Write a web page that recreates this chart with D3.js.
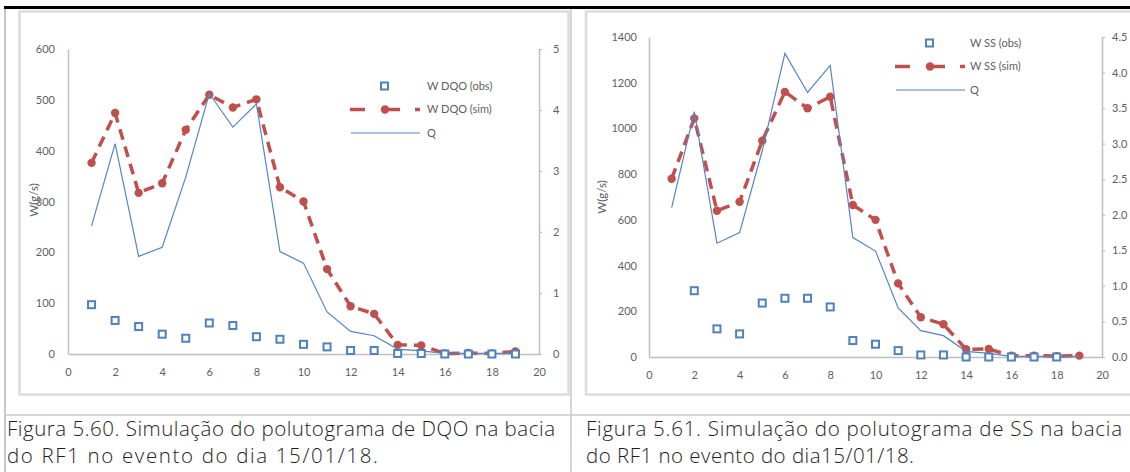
<!DOCTYPE html>
<html>
<head>
<meta charset="utf-8">
<script src="https://cdn.jsdelivr.net/npm/d3@7"></script>
<style>
  body { margin: 0; background: #fff; }
  svg { display: block; }
</style>
</head>
<body>
<script>
// time steps (x axis)
const steps = [1, 2, 3, 4, 5, 6, 7, 8, 9, 10, 11, 12, 13, 14, 15, 16, 17, 18, 19];
// flow Q (same event in both figures, right axis)
const qFlow = [2.1, 3.45, 1.6, 1.75, 2.9, 4.27, 3.72, 4.1, 1.68, 1.49, 0.69, 0.37, 0.30, 0.08, 0.05, 0.01, 0.01, 0.01, 0.01];
// DQO load
const dqoObs = [97, 66, 54, 39, 31, 61, 56, 34, 29, 19, 14, 7, 7, 1, 1, 0, 0, 0, 0];
const dqoSim = [376, 474, 317, 336, 441, 510, 485, 501, 328, 300, 167, 94, 79, 18, 17, 1, 2, 1, 5];
// SS load
const ssObs = [null, 290, 123, 101, 236, 257, 257, 219, 72, 56, 28, 9, 9, 0, 0, 0, 0, 0, null];
const ssSim = [780, 1044, 640, 679, 946, 1160, 1088, 1139, 665, 600, 322, 174, 143, 34, 35, 6, 6, 4, 6];

const xTicks = [0, 2, 4, 6, 8, 10, 12, 14, 16, 18, 20];
const dqoTicks = [0, 100, 200, 300, 400, 500, 600];
const dqoQTicks = [0, 1, 2, 3, 4, 5];
const ssTicks = [0, 200, 400, 600, 800, 1000, 1200, 1400];
const ssQTicks = [0, 0.5, 1, 1.5, 2, 2.5, 3, 3.5, 4, 4.5];

const dqoLegend = ["W DQO (obs)", "W DQO (sim)", "Q"];
const ssLegend = ["W SS (obs)", "W SS (sim)", "Q"];

const caption1 = ["Figura 5.60. Simulação do polutograma de DQO na bacia", "do RF1 no evento do dia 15/01/18."];
const caption2 = ["Figura 5.61. Simulação do polutograma de SS na bacia", "do RF1 no evento do dia15/01/18."];

const W = 1130, H = 472;
const blue = "#4f81bd", red = "#c0504d", axisCol = "#bfbfbf", txtCol = "#606060";
const tickFont = "Lato, 'Open Sans', sans-serif";

const svg = d3.select("body").append("svg").attr("width", W).attr("height", H);

// table borders
svg.append("rect").attr("x", 4).attr("y", 6).attr("width", W - 4).attr("height", 3).attr("fill", "#000");
svg.append("line").attr("x1", 5).attr("x2", 5).attr("y1", 9).attr("y2", H).attr("stroke", "#c8c8c8").attr("stroke-width", 2);
svg.append("line").attr("x1", 571).attr("x2", 571).attr("y1", 9).attr("y2", H).attr("stroke", "#c8c8c8").attr("stroke-width", 1.5);
svg.append("line").attr("x1", 4).attr("x2", W).attr("y1", 415).attr("y2", 415).attr("stroke", "#c8c8c8").attr("stroke-width", 1.5);

function drawPanel(p) {
  const g = svg.append("g");
  // chart area frame
  g.append("rect").attr("x", p.frame[0]).attr("y", p.frame[1]).attr("width", p.frame[2]).attr("height", p.frame[3])
    .attr("fill", "none").attr("stroke", "#dcdcdc").attr("stroke-width", 2.5);

  const x = d3.scaleLinear().domain([0, 20]).range([p.left, p.right]);
  const y = d3.scaleLinear().domain([0, p.yMax]).range([p.bottom, p.top]);
  const y2 = d3.scaleLinear().domain([0, p.qMax]).range([p.bottom, p.top]);

  const styleAxis = sel => {
    sel.select(".domain").attr("stroke", axisCol).attr("stroke-width", 1.5);
    sel.selectAll(".tick line").attr("stroke", axisCol).attr("stroke-width", 1.2);
    sel.selectAll("text").attr("fill", txtCol).style("font-family", tickFont).style("font-size", "11px");
  };

  g.append("g").attr("transform", `translate(0,${p.bottom})`)
    .call(d3.axisBottom(x).tickValues(xTicks).tickSize(0).tickPadding(14).tickSizeOuter(0))
    .call(styleAxis);
  g.append("g").attr("transform", `translate(${p.left},0)`)
    .call(d3.axisLeft(y).tickValues(p.yTicks).tickSize(0).tickPadding(p.lPad).tickSizeOuter(0).tickFormat(d3.format("d")))
    .call(styleAxis);
  g.append("g").attr("transform", `translate(${p.right},0)`)
    .call(d3.axisRight(y2).tickValues(p.qTicks).tickSize(3).tickPadding(p.rPad).tickSizeOuter(0).tickFormat(p.qFmt))
    .call(styleAxis)
    .call(s => s.selectAll("text").attr("text-anchor", "start"));

  // y title
  g.append("text").attr("transform", `translate(${p.titleX},${p.titleY}) rotate(-90)`)
    .attr("text-anchor", "middle").attr("dy", "0.35em")
    .attr("fill", txtCol).style("font-family", tickFont).style("font-size", "11.5px")
    .text("W(g/s)");

  const rows = steps.map((s, i) => ({ s, obs: p.obs[i], sim: p.sim[i], q: qFlow[i] }));

  // simulated load
  g.append("path").datum(rows)
    .attr("fill", "none").attr("stroke", red).attr("stroke-width", 3.5)
    .attr("stroke-dasharray", "11,7")
    .attr("d", d3.line().x(d => x(d.s)).y(d => y(d.sim)));
  g.selectAll("circle.sim").data(rows).enter().append("circle").attr("class", "sim")
    .attr("cx", d => x(d.s)).attr("cy", d => y(d.sim)).attr("r", 4.2).attr("fill", red);

  // flow
  g.append("path").datum(rows)
    .attr("fill", "none").attr("stroke", "#5585c5").attr("stroke-width", 1.2)
    .attr("d", d3.line().x(d => x(d.s)).y(d => y2(d.q)));

  // observed load
  g.selectAll("rect.obs").data(rows.filter(d => d.obs != null)).enter().append("rect").attr("class", "obs")
    .attr("x", d => x(d.s) - 3.5).attr("y", d => y(d.obs) - 3.5).attr("width", 7).attr("height", 7)
    .attr("fill", "#fff").attr("stroke", blue).attr("stroke-width", 2);

  // legend
  const lg = g.append("g").attr("transform", `translate(${p.legX},${p.legY})`);
  const lh = 23.5;
  lg.append("rect").attr("x", 31).attr("y", -3.5).attr("width", 7).attr("height", 7)
    .attr("fill", "#fff").attr("stroke", blue).attr("stroke-width", 2);
  lg.append("line").attr("x1", 0).attr("x2", 70).attr("y1", lh).attr("y2", lh)
    .attr("stroke", red).attr("stroke-width", 3.5).attr("stroke-dasharray", "15,10,0,10,15");
  lg.append("circle").attr("cx", 35).attr("cy", lh).attr("r", 4.2).attr("fill", red);
  lg.append("line").attr("x1", 1).attr("x2", 70).attr("y1", lh * 2).attr("y2", lh * 2)
    .attr("stroke", "#5585c5").attr("stroke-width", 1.2);
  lg.selectAll("text").data(p.legend).enter().append("text")
    .attr("x", p.legText).attr("y", (d, i) => i * lh).attr("dy", "0.35em")
    .attr("fill", txtCol).style("font-family", tickFont).style("font-size", "11px")
    .text(d => d);

  // caption
  g.selectAll("text.cap").data(p.caption).enter().append("text").attr("class", "cap")
    .attr("x", p.capX).attr("y", (d, i) => 436 + i * 27)
    .attr("fill", "#1e1e1e").style("font-family", "'Open Sans', Lato, sans-serif").style("font-weight", 300).style("font-size", "20.5px")
    .attr("textLength", (d, i) => p.capW[i]).attr("lengthAdjust", "spacing")
    .text(d => d);
}

drawPanel({
  frame: [19.5, 11.5, 549, 383],
  left: 68, right: 539, top: 49, bottom: 354,
  yMax: 600, qMax: 5, yTicks: dqoTicks, qTicks: dqoQTicks, qFmt: d3.format("d"),
  lPad: 13, rPad: 11, titleX: 34, titleY: 200,
  obs: dqoObs, sim: dqoSim,
  legX: 350, legY: 86, legText: 77, legend: dqoLegend,
  caption: caption1, capX: 7, capW: [548, 371]
});

drawPanel({
  frame: [586, 11.5, 600, 383],
  left: 649, right: 1102, top: 37, bottom: 357,
  yMax: 1400, qMax: 4.5, yTicks: ssTicks, qTicks: ssQTicks, qFmt: d3.format(".1f"),
  lPad: 12, rPad: 7, titleX: 602, titleY: 197,
  obs: ssObs, sim: ssSim,
  legX: 895, legY: 43, legText: 75, legend: ssLegend,
  caption: caption2, capX: 586, capW: [536, 328]
});
</script>
</body>
</html>
